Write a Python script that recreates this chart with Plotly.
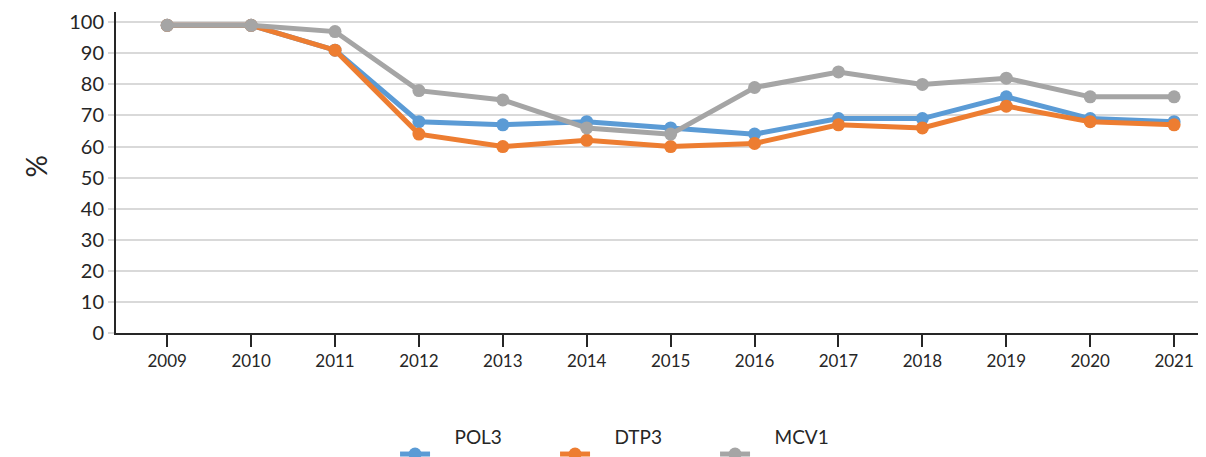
import plotly.graph_objects as go

years = ["2009", "2010", "2011", "2012", "2013", "2014", "2015",
         "2016", "2017", "2018", "2019", "2020", "2021"]
pol3 = [99, 99, 91, 68, 67, 68, 66, 64, 69, 69, 76, 69, 68]
dtp3 = [99, 99, 91, 64, 60, 62, 60, 61, 67, 66, 73, 68, 67]
mcv1 = [99, 99, 97, 78, 75, 66, 64, 79, 84, 80, 82, 76, 76]

series = [("POL3", pol3, "#5B9BD5"), ("DTP3", dtp3, "#ED7D31"), ("MCV1", mcv1, "#A5A5A5")]

fig = go.Figure()
for name, vals, col in series:
    fig.add_trace(go.Scatter(
        x=years, y=vals,
        name="<span style='font-size:19px'>&nbsp;&nbsp;&nbsp;&nbsp;" + name + "</span><br> ",
        mode="lines+markers",
        line=dict(color=col, width=5),
        marker=dict(color=col, size=13),
    ))

# page body has an 8px margin; compensate so the plot area sits where the reference has it
fig.update_layout(
    width=1198, height=449,
    margin=dict(l=108, r=0, t=4, b=124, autoexpand=False),
    plot_bgcolor="white", paper_bgcolor="white",
    font=dict(family="Lato, Open Sans, sans-serif", color="#262626"),
    showlegend=True,
    legend=dict(orientation="h", x=0.256, xanchor="left", y=-0.29, yanchor="top",
                valign="bottom", font=dict(size=11, color="#262626"),
                entrywidth=115, entrywidthmode="pixels",
                itemclick=False),
    xaxis=dict(
        type="category", range=[-0.61, 12.38], automargin=False,
        showline=True, linecolor="#262626", linewidth=2,
        ticks="outside", ticklen=12, tickwidth=1.5, tickcolor="#262626",
        tickfont=dict(size=17, color="#262626"),
        showgrid=False, zeroline=False,
    ),
    yaxis=dict(
        range=[0, 103.3], tickvals=list(range(0, 101, 10)), automargin=False,
        showline=True, linecolor="#262626", linewidth=2,
        ticks="outside", ticklen=6, tickwidth=2, tickcolor="#D9D9D9",
        tickfont=dict(size=20, color="#262626"),
        showgrid=True, gridcolor="#D9D9D9", gridwidth=2, zeroline=False,
    ),
    annotations=[dict(text="%", xref="paper", yref="paper", x=-0.073, y=0.52,
                      xanchor="center", yanchor="middle", showarrow=False,
                      textangle=-90, font=dict(size=28, color="#262626"))],
)

fig.write_html("out.html")
